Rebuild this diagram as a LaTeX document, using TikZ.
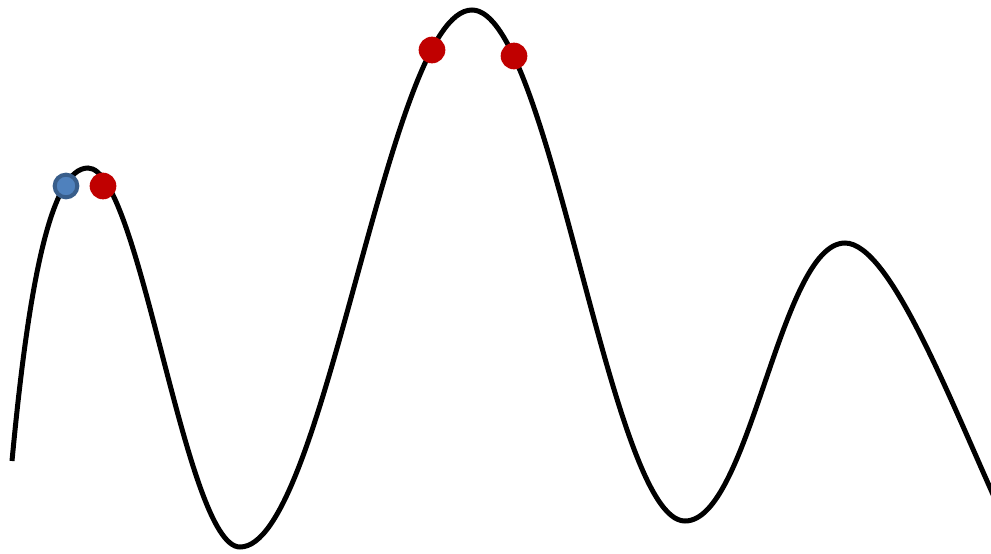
\documentclass[tikz,border=0pt]{standalone}
\definecolor{dotred}{HTML}{C00000}
\definecolor{dotblue}{HTML}{4F81BD}
\definecolor{dotblueedge}{HTML}{385D8A}
\tikzset{
  curveline/.style={line width=3.75pt, black},
  reddot/.style={circle, fill=dotred, inner sep=0pt, minimum size=20pt},
  bluedot/.style={circle, fill=dotblue, draw=dotblueedge, line width=3pt, inner sep=0pt, minimum size=17pt}
}
\begin{document}
\begin{tikzpicture}[x=0.75pt, y=-0.75pt]
\useasboundingbox (0,0) rectangle (991,553);
\clip (0,0) rectangle (991,553);
\draw[curveline] (12,461)
  .. controls (28,290) and (50,168) .. (88,168)
  .. controls (140,168) and (185,547) .. (240,547)
  .. controls (325,547) and (388,10) .. (472,10)
  .. controls (550,10) and (610,521) .. (685,521)
  .. controls (750,521) and (780,243) .. (845,243)
  .. controls (890,243) and (950,400) .. (1000,510);
\node[bluedot] (b1) at (66,186) {};
\node[reddot] (r1) at (103,186) {};
\node[reddot] (r2) at (432,50) {};
\node[reddot] (r3) at (514,56) {};
\end{tikzpicture}
\end{document}
